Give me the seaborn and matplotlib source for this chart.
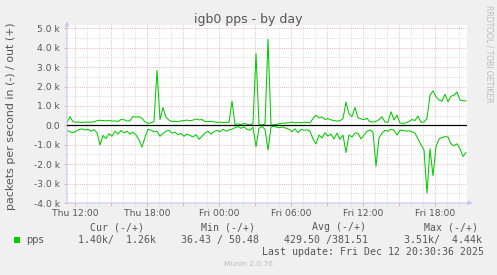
import matplotlib
matplotlib.use("Agg")
import matplotlib.pyplot as plt
import matplotlib.dates as mdates
from matplotlib.ticker import MultipleLocator, FuncFormatter
from matplotlib.patches import Rectangle
import pandas as pd
import seaborn as sns

# ---------------- data ----------------
start_time = "2025-12-11 11:20"
step = "15min"
x_start = "2025-12-11 11:20"
x_end = "2025-12-12 20:40"

out_pps = [
    140, 450, 190, 160, 170, 150, 160, 170, 160, 180,
    240, 260, 250, 230, 260, 220, 230, 200, 300, 290,
    220, 240, 460, 420, 450, 360, 180, 100, 130, 190,
    2840, 300, 920, 420, 270, 200, 210, 190, 230, 250,
    270, 240, 270, 330, 280, 300, 200, 190, 210, 180,
    150, 170, 140, 160, 150, 1250, 50, 80, 30, 100,
    60, 20, 90, 3690, 40, 20, 60, 4440, 30, 20,
    60, 90, 110, 120, 140, 170, 130, 150, 130, 160,
    150, 130, 350, 530, 380, 430, 300, 350, 280, 250,
    220, 240, 350, 1200, 600, 450, 920, 400, 330, 300,
    360, 180, 170, 200, 300, 440, 170, 160, 700, 280,
    530, 120, 100, 130, 200, 300, 250, 480, 150, 170,
    360, 1550, 1780, 1470, 1300, 1250, 1600, 1210, 1500, 1550,
    1720, 1300, 1270, 1260,
]
in_pps = [
    250, 330, 380, 300, 220, 180, 240, 200, 300, 220,
    380, 1010, 520, 680, 430, 560, 300, 450, 260, 380,
    300, 450, 350, 500, 750, 1120, 620, 200, 250, 330,
    300, 560, 420, 300, 250, 400, 350, 480, 420, 560,
    450, 520, 600, 480, 720, 560, 400, 300, 450, 330,
    250, 330, 200, 300, 240, 200, 120, 60, 150, 80,
    200, 250, 100, 1100, 150, 60, 200, 1270, 80, 40,
    100, 120, 80, 150, 200, 330, 180, 380, 200, 250,
    230, 300, 700, 950, 500, 650, 380, 550, 450, 700,
    400, 720, 500, 1400, 500, 600, 400, 400, 700, 500,
    300, 240, 350, 2100, 650, 400, 250, 300, 200, 250,
    500, 250, 260, 300, 280, 330, 400, 700, 1000, 1270,
    3490, 1200, 2600, 1100, 700, 620, 580, 600, 950, 1050,
    950, 1200, 1600, 1400,
]

title = "igb0 pps - by day"
ylabel = "packets per second in (-) / out (+)"
series_name = "pps"
legend_headers = ["Cur (-/+)", "Min (-/+)", "Avg (-/+)", "Max (-/+)"]
legend_values = ["1.40k/  1.26k", "36.43 / 50.48", "429.50 /381.51", "3.51k/  4.44k"]
last_update = "Last update: Fri Dec 12 20:30:36 2025"
footer = "Munin 2.0.76"
watermark = "RRDTOOL / TOBI OETIKER"

# ---------------- figure ----------------
W, H = 497, 275
BG = "#F0F0F0"
GREEN = "#00CC00"
TXT = "#555555"
AXISC = "#C4C8F0"


def px(x, y):
    return x / W, 1 - y / H


fig = plt.figure(figsize=(W / 100, H / 100), dpi=100, facecolor=BG)
ax = fig.add_axes([67 / W, (H - 203) / H, 400 / W, 178 / H])
ax.set_facecolor("white")

times = pd.date_range(start_time, periods=len(out_pps), freq=step)
df = pd.DataFrame({"time": times, "out": out_pps,
                   "inneg": [-v for v in in_pps]})

sns.lineplot(data=df, x="time", y="out", ax=ax, color=GREEN,
             linewidth=0.75, zorder=3)
sns.lineplot(data=df, x="time", y="inneg", ax=ax, color=GREEN,
             linewidth=0.75, zorder=3)
ax.axhline(0, color="black", linewidth=0.9, zorder=4)

ax.set_xlim(pd.Timestamp(x_start), pd.Timestamp(x_end))
ax.set_ylim(-4000, 5170)
ax.set_xlabel("")
ax.set_ylabel("")

# ticks / grid
ax.yaxis.set_major_locator(MultipleLocator(1000))
ax.yaxis.set_minor_locator(MultipleLocator(500))
ax.yaxis.set_major_formatter(FuncFormatter(
    lambda v, p: "0.0" if abs(v) < 1e-9 else f"{v / 1000:.1f} k"))
ax.xaxis.set_major_locator(mdates.HourLocator(byhour=range(0, 24, 3)))
ax.xaxis.set_minor_locator(mdates.HourLocator())


def xfmt(v, p):
    d = mdates.num2date(v)
    return d.strftime("%a %H:%M") if d.hour % 6 == 0 else ""


ax.xaxis.set_major_formatter(FuncFormatter(xfmt))

ax.grid(which="major", color="#E8A4A4", linestyle=(0, (1, 1.5)),
        linewidth=0.6, zorder=1)
ax.grid(which="minor", color="#D2D2D2", linestyle=(0, (1, 1.5)),
        linewidth=0.6, zorder=1)
ax.set_axisbelow(True)

ax.tick_params(which="major", color="#E8A0A0", length=2.5, width=0.6,
               labelsize=6.6, labelcolor=TXT, pad=1.5)
ax.tick_params(which="minor", color="#D0D0D0", length=1.5, width=0.6)
ax.tick_params(axis="y", pad=2.5)

for s in ax.spines.values():
    s.set_visible(False)

# axis lines with arrows
ax.annotate("", xy=(0, 1.02), xytext=(0, 0), xycoords="axes fraction",
            arrowprops=dict(arrowstyle="-|>", color=AXISC, lw=0.8,
                            mutation_scale=6, shrinkA=0, shrinkB=0))
ax.annotate("", xy=(1.014, 0), xytext=(0, 0), xycoords="axes fraction",
            arrowprops=dict(arrowstyle="-|>", color=AXISC, lw=0.8,
                            mutation_scale=6, shrinkA=0, shrinkB=0))

# texts
fig.text(*px(248.5, 23), title, ha="center", va="baseline",
         fontsize=9, color=TXT)
fig.text(*px(11, 116.5), ylabel, ha="center", va="center", rotation=90,
         fontsize=7.9, color=TXT)
fig.text(*px(488.5, 53.5), watermark, ha="center", va="center",
         rotation=270, fontsize=5.5, color="#BBBBBB")

mono = "DejaVu Sans Mono"
fig.patches.append(Rectangle(px(14, 243), 6 / W, 6 / H,
                             transform=fig.transFigure,
                             facecolor=GREEN, edgecolor="none"))
fig.text(*px(26.5, 240), series_name, ha="left", va="center",
         fontsize=7, color=TXT)

header_x = [90, 201, 312.5, 423.5]
value_x = [78.5, 181, 283.5, 403.5]
for hx, h in zip(header_x, legend_headers):
    fig.text(*px(hx, 227.5), h, ha="left", va="center", fontsize=7.1,
             family=mono, color=TXT)
for vx, v in zip(value_x, legend_values):
    fig.text(*px(vx, 240), v, ha="left", va="center", fontsize=7.1,
             family=mono, color=TXT)
fig.text(*px(483.5, 252), last_update, ha="right", va="center",
         fontsize=7.1, family=mono, color=TXT)
fig.text(*px(248.5, 264), footer, ha="center", va="center",
         fontsize=5.4, color="#BBBBBB")

fig.savefig("out.png", dpi=100, facecolor=BG)
